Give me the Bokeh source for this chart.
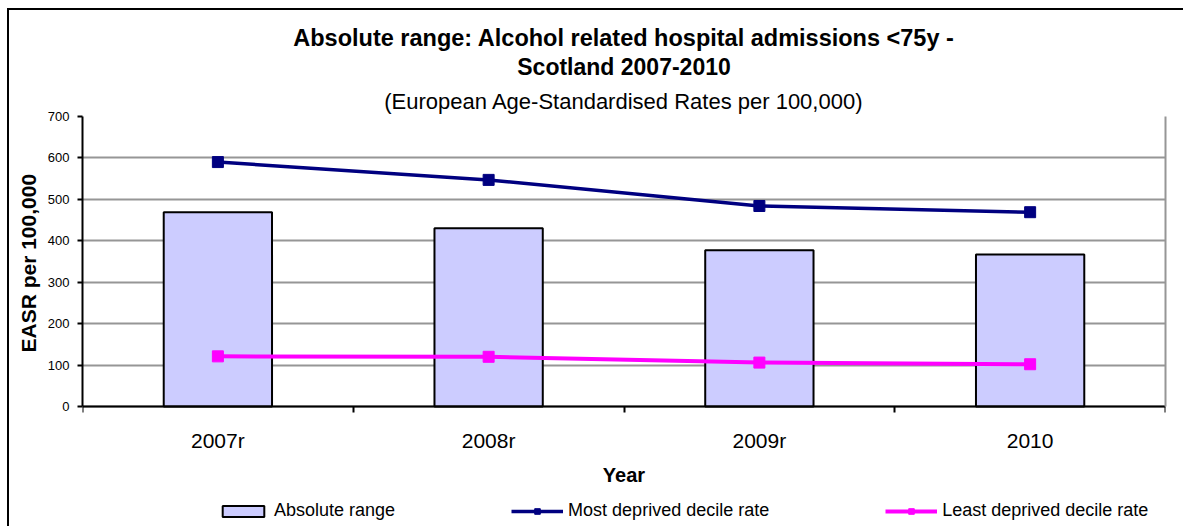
from bokeh.plotting import figure
from bokeh.models import (Range1d, FixedTicker, Title, Legend, LegendItem, ColumnDataSource,
                          LinearAxis)
from bokeh.embed import file_html
from bokeh.resources import INLINE

# ---- data ----
years = ["2007r", "2008r", "2009r", "2010"]
absolute_range = [469, 430, 377, 367]
most_deprived = [590, 547, 484, 469]
least_deprived = [121, 120, 106, 102]
y_ticks = [0, 100, 200, 300, 400, 500, 600, 700]

FONT = "Liberation Sans"
Y_MAX = 700
# frame: top at 116px, value 0 at 406px, frame bottom at 526px (room for the legend)
Y_MIN = -Y_MAX * (526 - 406) / (406 - 116)

xpos = [i + 0.5 for i in range(len(years))]
src = ColumnDataSource(dict(x=xpos, rng=absolute_range, most=most_deprived, least=least_deprived))

p = figure(width=1176, height=518, output_backend="svg", toolbar_location=None,
           x_range=Range1d(0, len(years)), y_range=Range1d(Y_MIN, Y_MAX),
           min_border_left=73, min_border_right=20, min_border_top=106, min_border_bottom=2,
           background_fill_color="white", border_fill_color="white")
p.styles = {"border-left": "2px solid black", "border-top": "2px solid black",
            "margin-left": "7px", "margin-top": "8px"}
p.title = None
p.outline_line_color = None

# titles (first added is closest to the plot)
sub = Title(text="(European Age-Standardised Rates per 100,000)", align="center",
            text_font=FONT, text_font_size="22px", text_font_style="normal",
            text_color="black", standoff=6)
t2 = Title(text="Scotland 2007-2010", align="center", text_font=FONT,
           text_font_size="23px", text_font_style="bold", text_color="black", standoff=7)
t1 = Title(text="Absolute range: Alcohol related hospital admissions <75y -", align="center",
           text_font=FONT, text_font_size="23.5px", text_font_style="bold", text_color="black",
           standoff=-5)
p.add_layout(sub, "above")
p.add_layout(t2, "above")
p.add_layout(t1, "above")

bars = p.vbar(x="x", top="rng", width=0.4, source=src, fill_color="#CCCCFF",
              line_color="black", line_width=2)
l1 = p.line(x="x", y="most", source=src, line_color="#000080", line_width=3.5)
m1 = p.scatter(x="x", y="most", source=src, marker="square", size=11,
               fill_color="#000080", line_color="#000080")
l2 = p.line(x="x", y="least", source=src, line_color="#FF00FF", line_width=4)
m2 = p.scatter(x="x", y="least", source=src, marker="square", size=11,
               fill_color="#FF00FF", line_color="#FF00FF")

# grid
p.xgrid.visible = False
p.ygrid.ticker = FixedTicker(ticks=y_ticks)
p.ygrid.grid_line_color = "#969696"
p.ygrid.grid_line_width = 2
p.ygrid.level = "underlay"

# y axis
ya = p.yaxis[0]
ya.ticker = FixedTicker(ticks=y_ticks)
ya.bounds = (0, Y_MAX)
ya.axis_line_color = "black"
ya.axis_line_width = 2
ya.major_tick_out = 5
ya.major_tick_in = 0
ya.major_tick_line_width = 2
ya.minor_tick_line_color = None
ya.major_label_standoff = 8
ya.major_label_text_font = FONT
ya.major_label_text_font_size = "13px"
ya.major_label_text_color = "black"

# y axis title, centred on the 0-700 part of the axis
ytitle = Title(text="EASR per 100,000", align="left", offset=174, text_font=FONT,
               text_font_size="21px", text_font_style="bold", text_color="black", standoff=9)
p.add_layout(ytitle, "left")

# right edge of plot area (grey)
ra = LinearAxis(ticker=FixedTicker(ticks=[]), bounds=(0, Y_MAX),
                axis_line_color="#969696", axis_line_width=2,
                major_tick_line_color=None, minor_tick_line_color=None,
                major_label_text_font_size="0px")
p.add_layout(ra, "right")

# x axis at value 0: labels at category centres, ticks at boundaries
xa = p.xaxis[0]
xa.fixed_location = 0
xa.ticker = FixedTicker(ticks=xpos, minor_ticks=list(range(len(years) + 1)))
xa.major_label_overrides = {x: y for x, y in zip(xpos, years)}
xa.axis_line_color = "black"
xa.axis_line_width = 2
xa.major_tick_line_color = None
xa.major_tick_out = 0
xa.major_tick_in = 0
xa.minor_tick_out = 6
xa.minor_tick_in = 0
xa.minor_tick_line_color = "black"
xa.minor_tick_line_width = 2
xa.major_label_standoff = 16
xa.major_label_text_font = FONT
xa.major_label_text_font_size = "21px"
xa.major_label_text_color = "black"
xa.axis_label = "Year"
xa.axis_label_text_font = FONT
xa.axis_label_text_font_size = "20px"
xa.axis_label_text_font_style = "bold"
xa.axis_label_text_color = "black"
xa.axis_label_standoff = 9

legend = Legend(items=[
    LegendItem(label="Absolute range", renderers=[bars]),
    LegendItem(label="Most deprived decile rate", renderers=[l1, m1]),
    LegendItem(label="Least deprived decile rate", renderers=[l2, m2]),
], orientation="horizontal", location=(135, 5), spacing=116,
   glyph_width=52, glyph_height=14, label_standoff=5,
   label_text_font=FONT, label_text_font_size="18px", label_text_color="black",
   border_line_color=None, background_fill_alpha=0, padding=0, margin=0)
p.add_layout(legend, "center")

open("out.html", "w").write(file_html(p, INLINE))
